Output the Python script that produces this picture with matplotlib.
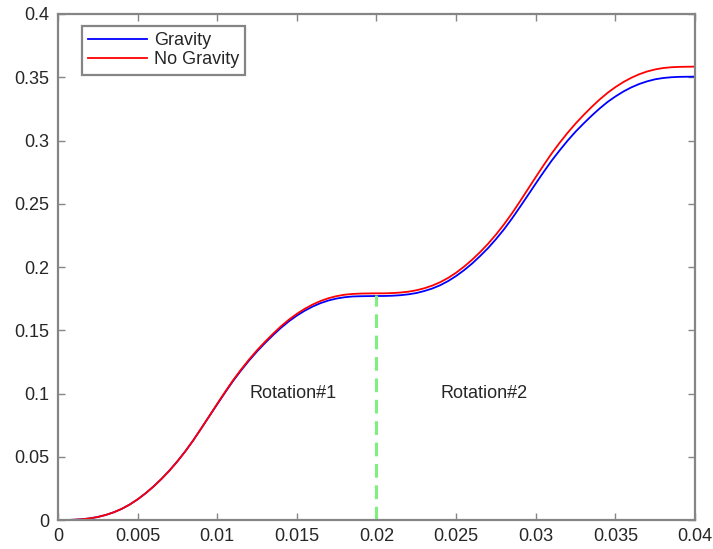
import numpy as np
import matplotlib
matplotlib.use("Agg")
import matplotlib.pyplot as plt

# time axis (s): samples every 0.5 ms from 0 to 40 ms
t = np.round(np.arange(0, 0.04001, 0.0005), 4)

gravity = [0.0000, 0.0000, 0.0002, 0.0006, 0.0013, 0.0024, 0.0040, 0.0061, 0.0088, 0.0122,
           0.0163, 0.0211, 0.0265, 0.0325, 0.0391, 0.0464, 0.0544, 0.0631, 0.0725, 0.0820,
           0.0915, 0.1009, 0.1100, 0.1183, 0.1261, 0.1333, 0.1399, 0.1461, 0.1519, 0.1571,
           0.1616, 0.1655, 0.1688, 0.1715, 0.1736, 0.1751, 0.1761, 0.1767, 0.1769, 0.1770,
           0.1771, 0.1771, 0.1773, 0.1777, 0.1784, 0.1794, 0.1810, 0.1830, 0.1856, 0.1889,
           0.1929, 0.1975, 0.2027, 0.2086, 0.2149, 0.2220, 0.2297, 0.2382, 0.2473, 0.2566,
           0.2660, 0.2752, 0.2841, 0.2922, 0.2999, 0.3070, 0.3134, 0.3195, 0.3252, 0.3304,
           0.3348, 0.3387, 0.3420, 0.3447, 0.3468, 0.3484, 0.3494, 0.3500, 0.3503, 0.3504,
           0.3505]

no_gravity = [0.0000, 0.0000, 0.0002, 0.0006, 0.0013, 0.0024, 0.0040, 0.0061, 0.0088, 0.0122,
              0.0163, 0.0211, 0.0265, 0.0325, 0.0391, 0.0464, 0.0544, 0.0631, 0.0725, 0.0822,
              0.0919, 0.1014, 0.1106, 0.1190, 0.1269, 0.1342, 0.1409, 0.1472, 0.1531, 0.1584,
              0.1630, 0.1670, 0.1704, 0.1732, 0.1754, 0.1770, 0.1781, 0.1787, 0.1790, 0.1791,
              0.1792, 0.1792, 0.1794, 0.1798, 0.1805, 0.1816, 0.1832, 0.1853, 0.1880, 0.1914,
              0.1955, 0.2003, 0.2057, 0.2117, 0.2183, 0.2256, 0.2336, 0.2423, 0.2517, 0.2614,
              0.2711, 0.2806, 0.2898, 0.2982, 0.3061, 0.3134, 0.3201, 0.3264, 0.3323, 0.3376,
              0.3422, 0.3462, 0.3496, 0.3524, 0.3546, 0.3562, 0.3573, 0.3579, 0.3582, 0.3583,
              0.3584]

switch_t = 0.02
switch_top = 0.178
labels = ["Rotation#1", "Rotation#2"]
label_x = [0.012, 0.024]
label_y = 0.1

plt.rcParams["font.family"] = ["Liberation Sans", "DejaVu Sans"]
axis_grey = "#858585"
text_col = "#262626"

fig = plt.figure(figsize=(7.13, 5.49), dpi=100)
ax = fig.add_axes([0.0813, 0.0528, 0.8935, 0.9217])

ax.plot(t, gravity, color="#0000ff", lw=1.3, label="Gravity")
ax.plot(t, no_gravity, color="#ff0000", lw=1.3, label="No Gravity")
# boundary between the two rotations
ax.plot([switch_t, switch_t], [0, switch_top], color="#7ff07f", lw=2.2,
        dashes=(4.5, 2.5))

for s, x in zip(labels, label_x):
    ax.text(x, label_y, s, ha="left", va="center", fontsize=13, color=text_col)

ax.set_xlim(0, 0.04)
ax.set_ylim(0, 0.4)
ax.set_xticks(np.arange(0, 0.0401, 0.005))
ax.set_yticks(np.arange(0, 0.401, 0.05))
ax.set_xticklabels(["0", "0.005", "0.01", "0.015", "0.02", "0.025", "0.03", "0.035", "0.04"])
ax.set_yticklabels(["0", "0.05", "0.1", "0.15", "0.2", "0.25", "0.3", "0.35", "0.4"])
ax.tick_params(direction="in", length=5, width=1, color=axis_grey,
               labelsize=13, labelcolor=text_col, top=True, right=True, pad=6)
for sp in ax.spines.values():
    sp.set_color(axis_grey)
    sp.set_linewidth(1.6)

leg = ax.legend(loc="upper left", bbox_to_anchor=(0.037, 0.976), borderaxespad=0,
                fontsize=13, handlelength=3.3, handletextpad=0.35, labelspacing=0.1,
                borderpad=0.35, fancybox=False, framealpha=1)
leg.get_frame().set_edgecolor(axis_grey)
leg.get_frame().set_linewidth(1.6)
for txt in leg.get_texts():
    txt.set_color(text_col)

fig.savefig("out.png", dpi=100)
